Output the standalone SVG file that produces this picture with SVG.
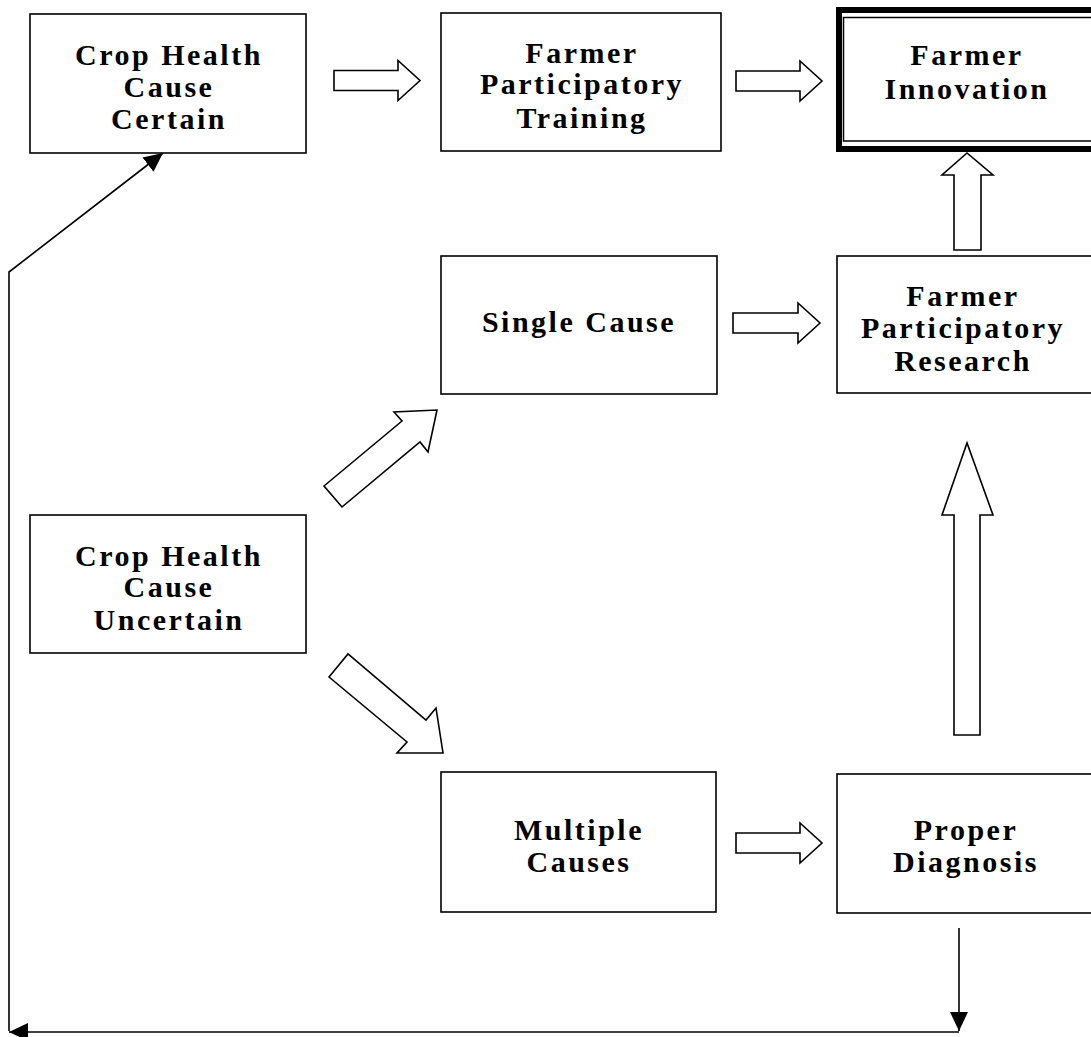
<svg xmlns="http://www.w3.org/2000/svg" width="1091" height="1037" viewBox="0 0 1091 1037">
<defs>
<style>
.box{fill:#fff;stroke:#000;stroke-width:1.6}
.t{font-family:"Liberation Serif","Times New Roman",serif;font-weight:bold;font-size:30px;letter-spacing:2.5px;text-anchor:middle;fill:#000}
.blk{fill:#fff;stroke:#000;stroke-width:1.6;stroke-linejoin:miter}
.ln{fill:none;stroke:#000;stroke-width:1.6}
</style>
<marker id="ah" markerUnits="userSpaceOnUse" markerWidth="20" markerHeight="18" refX="19" refY="9" orient="auto">
<path d="M0,0 L19,9 L0,18 z" fill="#000"/>
</marker>
</defs>
<rect width="1091" height="1037" fill="#fff"/>

<g id="connectors">
<polygon class="blk" points="334,70.5 398,70.5 398,60.5 420,80.5 398,100.5 398,90.5 334,90.5"/>
<polygon class="blk" points="736,71 800,71 800,61 822,81 800,101 800,91 736,91"/>
<polygon class="blk" points="733,313 798,313 798,303 820,323 798,343 798,333 733,333"/>
<polygon class="blk" points="736,833 800,833 800,823 822,843 800,863 800,853 736,853"/>
<polygon class="blk" points="954,250 954,175 942,175 967,153 993,175 981,175 981,250"/>
<polygon class="blk" points="954,735 954,515 942,515 967,443 993,515 980,515 980,735"/>
<polygon class="blk" points="324,486 402,421 394,412 437,410 428,452 420,442 342,507"/>
<polygon class="blk" points="329,677 348,654 426,720 436,708 443,753 397,753 407,742"/>
<line class="ln" x1="959" y1="928" x2="959" y2="1031" marker-end="url(#ah)"/>
<line class="ln" x1="959" y1="1032" x2="9" y2="1032" marker-end="url(#ah)"/>
<polyline class="ln" points="9,1031 9,272 163,153" marker-end="url(#ah)"/>
</g>

<g id="n-certain">
<rect class="box" x="30" y="14" width="276" height="139"/>
<text class="t" x="169" y="65">Crop Health</text>
<text class="t" x="169" y="97">Cause</text>
<text class="t" x="169" y="129">Certain</text>
</g>

<g id="n-training">
<rect class="box" x="441" y="13" width="280" height="138"/>
<text class="t" x="582" y="63">Farmer</text>
<text class="t" x="582" y="94">Participatory</text>
<text class="t" x="582" y="128">Training</text>
</g>

<g id="n-innovation">
<rect x="839" y="10" width="270" height="139" fill="#fff" stroke="#000" stroke-width="6"/>
<rect x="843.5" y="17.5" width="270" height="123.5" fill="none" stroke="#000" stroke-width="1.5"/>
<text class="t" x="967" y="65">Farmer</text>
<text class="t" x="967" y="99">Innovation</text>
</g>

<g id="n-single">
<rect class="box" x="441" y="256" width="276" height="138"/>
<text class="t" x="579" y="332">Single Cause</text>
</g>

<g id="n-research">
<rect class="box" x="837" y="256" width="270" height="137"/>
<text class="t" x="963" y="306">Farmer</text>
<text class="t" x="963" y="338">Participatory</text>
<text class="t" x="963" y="371">Research</text>
</g>

<g id="n-uncertain">
<rect class="box" x="30" y="515" width="276" height="138"/>
<text class="t" x="169" y="566">Crop Health</text>
<text class="t" x="169" y="597">Cause</text>
<text class="t" x="169" y="630">Uncertain</text>
</g>

<g id="n-multiple">
<rect class="box" x="441" y="772" width="275" height="140"/>
<text class="t" x="579" y="840">Multiple</text>
<text class="t" x="579" y="872">Causes</text>
</g>

<g id="n-diagnosis">
<rect class="box" x="837" y="774" width="270" height="139"/>
<text class="t" x="966" y="840">Proper</text>
<text class="t" x="966" y="872">Diagnosis</text>
</g>
</svg>
